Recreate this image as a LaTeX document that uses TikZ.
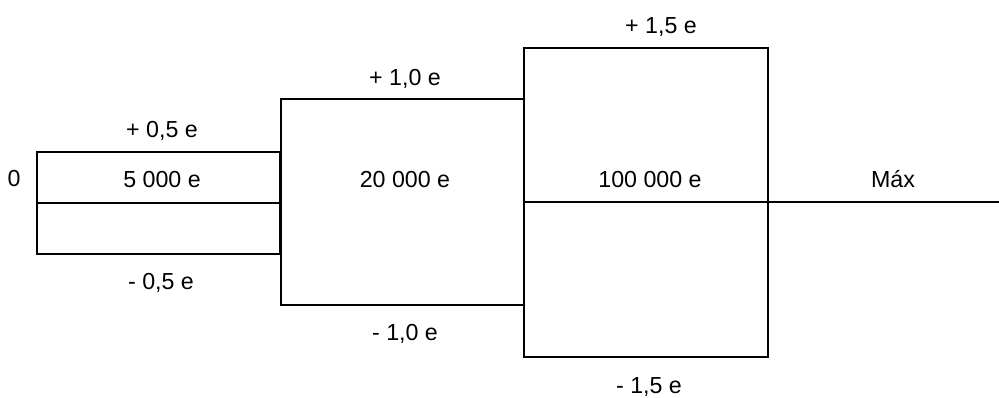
\documentclass[tikz,border=0pt]{standalone}
\usepackage{fontspec}
\setmainfont{Liberation Sans}
\usetikzlibrary{positioning}

\begin{document}
\begin{tikzpicture}[x=0.025cm, y=-0.025cm, line width=1.4pt,
    lbl/.style={font=\fontsize{16.5}{19}\selectfont, inner sep=0pt, anchor=base}]
  \useasboundingbox (0,0) rectangle (999,397);

  % first step
  \draw (37,152) rectangle (280,254);
  \draw (37,203) -- (280,203);
  \node[lbl] (zero) at (14,186) {0};
  \node[lbl] (cntA) at (162,187) {5 000 e};
  \node[lbl] (upA) at (162,137) {+ 0,5 e};
  \node[lbl] (dnA) at (161,289) {- 0,5 e};

  % second step
  \draw (281,99) rectangle (524,305);
  \node[lbl] (cntB) at (405,187) {20 000 e};
  \node[lbl] (upB) at (405,85) {+ 1,0 e};
  \node[lbl] (dnB) at (405,340) {- 1,0 e};

  % third step
  \draw (524,48) rectangle (768,357);
  \draw (524,202) -- (999,202);
  \node[lbl] (cntC) at (650,187) {100 000 e};
  \node[lbl] (upC) at (661,33) {+ 1,5 e};
  \node[lbl] (dnC) at (649,393) {- 1,5 e};
  \node[lbl] (max) at (893,187) {Máx};
\end{tikzpicture}
\end{document}
